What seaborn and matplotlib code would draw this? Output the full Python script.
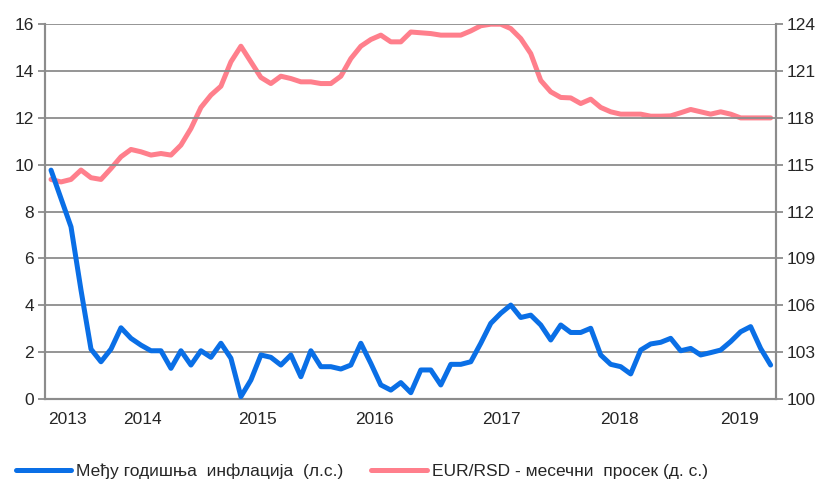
import numpy as np
import pandas as pd
import matplotlib
matplotlib.use('Agg')
import matplotlib.pyplot as plt
import seaborn as sns

# monthly data, Jun 2013 - Jun 2019
inflation = [9.77, 8.56, 7.35, 4.65, 2.13, 1.59, 2.13, 3.04, 2.59, 2.30,
             2.06, 2.06, 1.31, 2.06, 1.45, 2.06, 1.78, 2.38, 1.74, 0.10,
             0.81, 1.88, 1.78, 1.45, 1.88, 0.95, 2.06, 1.38, 1.38, 1.28,
             1.45, 2.38, 1.52, 0.60, 0.38, 0.70, 0.27, 1.24, 1.24, 0.60,
             1.48, 1.48, 1.59, 2.38, 3.23, 3.66, 4.01, 3.48, 3.58, 3.16,
             2.52, 3.16, 2.84, 2.84, 3.02, 1.88, 1.48, 1.38, 1.07, 2.09,
             2.35, 2.42, 2.59, 2.06, 2.16, 1.88, 1.98, 2.09, 2.45, 2.87,
             3.09, 2.16, 1.45]
eur_rsd = [114.06, 113.90, 114.06, 114.66, 114.17, 114.06, 114.76, 115.51,
           115.98, 115.83, 115.62, 115.72, 115.62, 116.26, 117.32, 118.67,
           119.46, 120.03, 121.59, 122.59, 121.59, 120.59, 120.20, 120.67,
           120.52, 120.31, 120.31, 120.20, 120.20, 120.67, 121.80, 122.59,
           123.02, 123.30, 122.87, 122.87, 123.50, 123.45, 123.40, 123.30,
           123.30, 123.30, 123.57, 123.90, 124.00, 124.00, 123.72, 123.08,
           122.12, 120.40, 119.67, 119.31, 119.28, 118.92, 119.20, 118.67,
           118.39, 118.24, 118.24, 118.24, 118.11, 118.11, 118.13, 118.33,
           118.54, 118.39, 118.24, 118.39, 118.24, 118.00, 118.00, 118.00,
           118.00]
year_labels = ['2013', '2014', '2015', '2016', '2017', '2018', '2019']
year_pos = [1.6, 9.1, 20.7, 32.4, 45.1, 56.9, 68.9]

label_infl = 'Међу годишња  инфлација  (л.с.)'
label_fx = 'EUR/RSD - месечни  просек (д. с.)'

df = pd.DataFrame({'month': np.arange(len(inflation)),
                   'infl': inflation, 'fx': eur_rsd})

sns.set_style('white')
plt.rcParams['font.family'] = ['Liberation Sans', 'DejaVu Sans']
narrow = ['Liberation Sans Narrow', 'Liberation Sans', 'DejaVu Sans']

blue = '#0A6FE6'
pink = '#FF7F8C'
grid_c = '#8C8C8C'

fig = plt.figure(figsize=(8.26, 4.84), dpi=100)
ax = fig.add_axes([0.0545, 0.1756, 0.8845, 0.7744])
ax2 = ax.twinx()

sns.lineplot(data=df, x='month', y='infl', ax=ax, color=blue, lw=3.6,
             label=label_infl, legend=False, zorder=3)
sns.lineplot(data=df, x='month', y='fx', ax=ax2, color=pink, lw=3.6,
             label=label_fx, legend=False)

ax.set_xlim(-0.6, 72.5)
ax.set_ylim(0, 16)
ax2.set_ylim(100, 124)
ax.set_yticks(np.arange(0, 17, 2))
ax2.set_yticks(np.arange(100, 125, 3))
for y in np.arange(2, 17, 2):
    ax.axhline(y, color=grid_c, lw=1.3, zorder=0)

ax.set_xticks(year_pos)
ax.set_xticklabels(year_labels, family=narrow, fontsize=12.5)
ax.tick_params(axis='x', length=0, pad=9)
ax.tick_params(axis='y', length=5, width=1.3, color=grid_c, labelsize=12.5, pad=3)
ax2.tick_params(axis='y', length=5, width=1.3, color=grid_c, labelsize=12.5, pad=3)
ax.set_xlabel('')
ax.set_ylabel('')
ax2.set_ylabel('')

for a in (ax, ax2):
    for side in ('left', 'right', 'bottom'):
        a.spines[side].set_color(grid_c)
        a.spines[side].set_linewidth(1.5)
    a.spines['top'].set_visible(False)
ax.set_zorder(ax2.get_zorder() + 1)
ax.patch.set_visible(False)

h1, l1 = ax.get_legend_handles_labels()
h2, l2 = ax2.get_legend_handles_labels()
fig.legend(h1 + h2, l1 + l2, loc='lower left', bbox_to_anchor=(0.0, -0.022),
           ncol=2, frameon=False, handlelength=3.2, columnspacing=1.6,
           handletextpad=0.3, prop={'family': narrow, 'size': 12.5})

fig.savefig('out.png', dpi=100)
